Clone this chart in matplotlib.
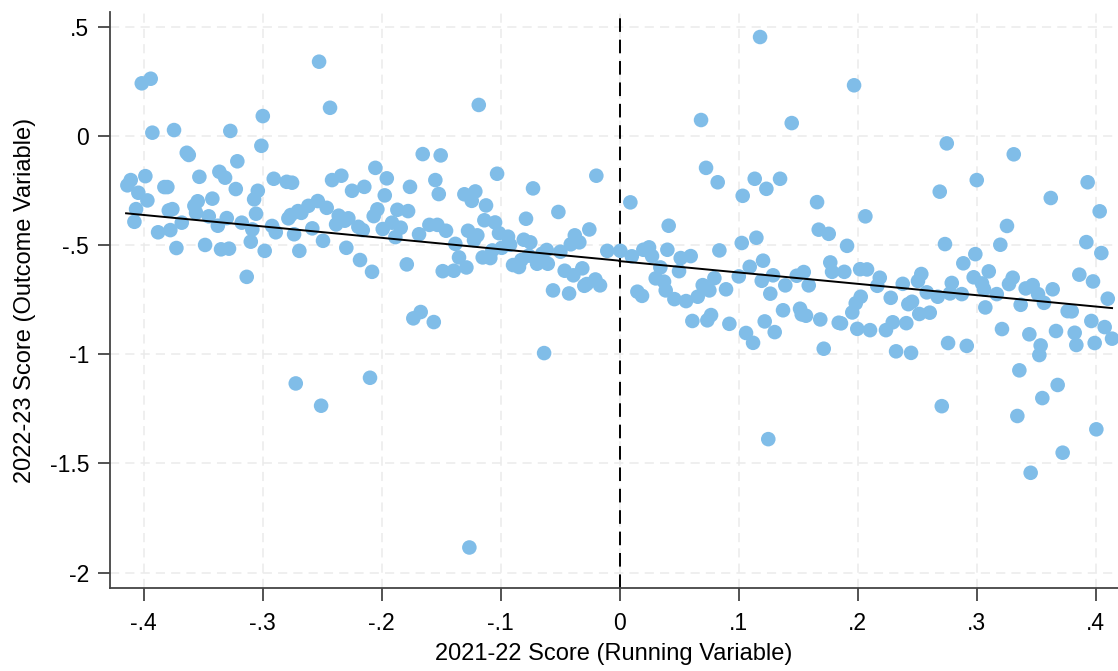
import numpy as np
import matplotlib
matplotlib.use("Agg")
import matplotlib.pyplot as plt

plt.rcParams['font.family'] = ['Liberation Sans', 'DejaVu Sans']

# binned scores left of the cutoff (running variable < 0)
left_x = [-0.4015, -0.394, -0.3926, -0.3744, -0.2525, -0.2433, -0.2998, -0.3010, -0.3271, -0.3637,
          -0.3620, -0.3212, -0.4136, -0.4108, -0.3985, -0.4044, -0.3968, -0.4063, -0.4077, -0.3878,
          -0.3825, -0.3800, -0.3788, -0.3758, -0.3775, -0.3724, -0.3679, -0.3531, -0.3573, -0.3545,
          -0.3559, -0.3452, -0.3422, -0.3483, -0.3376, -0.3363, -0.3315, -0.3225, -0.3301, -0.3349,
          -0.3282, -0.3175, -0.3133, -0.3099, -0.3086, -0.3055, -0.3071, -0.3040, -0.2982, -0.2920,
          -0.2889, -0.2906, -0.2797, -0.2752, -0.2783, -0.2763, -0.2702, -0.2674, -0.2735, -0.2691,
          -0.2615, -0.2582, -0.2536, -0.2492, -0.2461, -0.2416, -0.2338, -0.2360, -0.2382, -0.2309,
          -0.2279, -0.2296, -0.2248, -0.2195, -0.2181, -0.2721, -0.2508,
          -0.1183, -0.1654, -0.1503, -0.2052, -0.1956, -0.2145, -0.1973, -0.1761, -0.1548, -0.1519,
          -0.1029, -0.0727, -0.0195, -0.1304, -0.1242, -0.1212, -0.1122, -0.2035, -0.2066, -0.1867,
          -0.1777, -0.2158, -0.1990, -0.1912, -0.1839, -0.1884, -0.1685, -0.1598, -0.1531, -0.1458,
          -0.1380, -0.1273, -0.1223, -0.1195, -0.1136, -0.1046, -0.1013, -0.0937, -0.0920, -0.0990,
          -0.0786, -0.0805, -0.0750, -0.0514, -0.0376, -0.0338, -0.0410, -0.0254, -0.2080, -0.1788,
          -0.1486, -0.1393, -0.1349, -0.1287, -0.1150, -0.1086, -0.1069, -0.0895, -0.0845, -0.0825,
          -0.0763, -0.0693, -0.0603, -0.0649, -0.0612, -0.0497, -0.0461, -0.0388, -0.0313, -0.0559,
          -0.0424, -0.0296, -0.0276, -0.0203, -0.0164, -0.0103, -0.1733, -0.1671, -0.1561, -0.0634,
          -0.2097, -0.1262]
left_y = [0.240, 0.261, 0.014, 0.026, 0.339, 0.128, 0.090, -0.046, 0.022, -0.078,
          -0.088, -0.117, -0.227, -0.203, -0.185, -0.261, -0.296, -0.336, -0.394, -0.442,
          -0.235, -0.235, -0.342, -0.336, -0.432, -0.514, -0.398, -0.188, -0.321, -0.300,
          -0.353, -0.369, -0.288, -0.500, -0.412, -0.165, -0.192, -0.244, -0.377, -0.520,
          -0.517, -0.398, -0.646, -0.485, -0.429, -0.357, -0.291, -0.252, -0.527, -0.413,
          -0.442, -0.197, -0.211, -0.215, -0.378, -0.363, -0.345, -0.353, -0.451, -0.527,
          -0.321, -0.424, -0.299, -0.481, -0.330, -0.203, -0.183, -0.366, -0.406, -0.389,
          -0.378, -0.513, -0.252, -0.417, -0.569, -1.134, -1.236,
          0.141, -0.084, -0.090, -0.147, -0.195, -0.234, -0.273, -0.234, -0.203, -0.267,
          -0.174, -0.241, -0.183, -0.268, -0.298, -0.255, -0.319, -0.337, -0.368, -0.339,
          -0.345, -0.432, -0.427, -0.398, -0.421, -0.464, -0.451, -0.408, -0.408, -0.435,
          -0.495, -0.435, -0.478, -0.456, -0.387, -0.397, -0.446, -0.462, -0.499, -0.513,
          -0.380, -0.476, -0.488, -0.349, -0.456, -0.488, -0.497, -0.429, -0.623, -0.589,
          -0.620, -0.618, -0.557, -0.603, -0.557, -0.560, -0.525, -0.592, -0.601, -0.569,
          -0.549, -0.586, -0.586, -0.540, -0.523, -0.531, -0.618, -0.639, -0.607, -0.708,
          -0.722, -0.687, -0.679, -0.658, -0.685, -0.527, -0.836, -0.807, -0.853, -0.995,
          -1.108, -1.885]

# scores right of the cutoff (running variable >= 0)
right_x = [0.0007, 0.1181, 0.1971, 0.0685, 0.1447, 0.0727, 0.0825, 0.1035, 0.1136, 0.1234,
           0.1349, 0.0091, 0.0413, 0.1660, 0.1674, 0.1758, 0.2066, 0.0103, 0.0200, 0.0248,
           0.0273, 0.0402, 0.0514, 0.0598, 0.0839, 0.1027, 0.1150, 0.1206, 0.1094, 0.0343,
           0.0500, 0.0304, 0.0374, 0.0388, 0.0699, 0.0755, 0.0797, 0.0895, 0.1002, 0.1195,
           0.1290, 0.1267, 0.1393, 0.1489, 0.1548, 0.1590, 0.1771, 0.1786, 0.1889, 0.1912,
           0.2022, 0.0150, 0.0189, 0.0461, 0.0559, 0.0657, 0.2027, 0.0612, 0.0738, 0.0769,
           0.0923, 0.1063, 0.1122, 0.1220, 0.1304, 0.1374, 0.1517, 0.1531, 0.1567, 0.1687,
           0.1716, 0.1842, 0.1861, 0.1956, 0.1985, 0.1998, 0.2105, 0.1250,
           0.2750, 0.3313, 0.3002, 0.2691, 0.3934, 0.3624, 0.4035, 0.3256, 0.2735, 0.3200,
           0.3923, 0.4049, 0.2990, 0.2889, 0.3103, 0.2976, 0.3046, 0.3063, 0.2080, 0.2187,
           0.2166, 0.2380, 0.2536, 0.2508, 0.2582, 0.2792, 0.2777, 0.2876, 0.3273, 0.3304,
           0.3170, 0.3413, 0.3472, 0.3517, 0.3640, 0.3864, 0.3979, 0.2279, 0.2458, 0.2674,
           0.4103, 0.2427, 0.2519, 0.2607, 0.3074, 0.3371, 0.3567, 0.3766, 0.3800, 0.2239,
           0.2296, 0.2410, 0.2324, 0.2450, 0.2761, 0.2918, 0.3214, 0.3444, 0.3539, 0.3528,
           0.3668, 0.3825, 0.3839, 0.3965, 0.3993, 0.4077, 0.4139, 0.3360, 0.3682, 0.3553,
           0.2708, 0.3343, 0.4007, 0.3724, 0.3455]
right_y = [-0.527, 0.452, 0.231, 0.072, 0.058, -0.147, -0.213, -0.275, -0.197, -0.243,
           -0.197, -0.305, -0.412, -0.304, -0.430, -0.449, -0.369, -0.552, -0.522, -0.511,
           -0.551, -0.522, -0.560, -0.551, -0.525, -0.491, -0.467, -0.572, -0.600, -0.603,
           -0.620, -0.653, -0.668, -0.708, -0.684, -0.708, -0.652, -0.703, -0.644, -0.664,
           -0.639, -0.723, -0.685, -0.641, -0.624, -0.685, -0.580, -0.623, -0.623, -0.504,
           -0.611, -0.714, -0.733, -0.748, -0.757, -0.737, -0.737, -0.848, -0.845, -0.821,
           -0.861, -0.903, -0.948, -0.850, -0.899, -0.799, -0.792, -0.818, -0.824, -0.841,
           -0.975, -0.856, -0.859, -0.809, -0.767, -0.884, -0.890, -1.389,
           -0.035, -0.085, -0.203, -0.256, -0.213, -0.285, -0.346, -0.413, -0.496, -0.499,
           -0.487, -0.537, -0.542, -0.584, -0.621, -0.648, -0.676, -0.703, -0.612, -0.650,
           -0.687, -0.678, -0.633, -0.665, -0.717, -0.674, -0.722, -0.725, -0.679, -0.650,
           -0.725, -0.699, -0.684, -0.725, -0.703, -0.636, -0.667, -0.742, -0.760, -0.737,
           -0.746, -0.771, -0.816, -0.810, -0.786, -0.774, -0.765, -0.803, -0.804, -0.890,
           -0.854, -0.858, -0.987, -0.994, -0.949, -0.962, -0.885, -0.909, -0.960, -1.004,
           -0.894, -0.902, -0.958, -0.848, -0.949, -0.876, -0.929, -1.074, -1.141, -1.201,
           -1.238, -1.283, -1.344, -1.451, -1.543]

# fitted linear trend on each side of the cutoff
fit_left_x = [-0.4147, 0.0]
fit_left_y = [-0.355, -0.572]
fit_right_x = [0.0, 0.4139]
fit_right_y = [-0.574, -0.789]

xticks = [-0.4, -0.3, -0.2, -0.1, 0, 0.1, 0.2, 0.3, 0.4]
xtick_labels = ['-.4', '-.3', '-.2', '-.1', '0', '.1', '.2', '.3', '.4']
yticks = [0.5, 0, -0.5, -1, -1.5, -2]
ytick_labels = ['.5', '0', '-.5', '-1', '-1.5', '-2']

dot_color = '#80bde8'
spine_color = '#444444'

fig = plt.figure(figsize=(11.18, 6.71), dpi=100)
ax = fig.add_axes([0.0984, 0.1232, 0.9016, 0.8594])

ax.scatter(left_x, left_y, s=110, color=dot_color, edgecolors='none', zorder=3)
ax.scatter(right_x, right_y, s=110, color=dot_color, edgecolors='none', zorder=3)
ax.plot(fit_left_x, fit_left_y, color='black', linewidth=1.4, zorder=4)
ax.plot(fit_right_x, fit_right_y, color='black', linewidth=1.4, zorder=4)
ax.axvline(0, color='black', linewidth=1.4, linestyle=(0, (7, 4)), zorder=2)

ax.set_xlim(-0.4282, 0.4189)
ax.set_ylim(-2.072, 0.568)
ax.set_xticks(xticks)
ax.set_xticklabels(xtick_labels)
ax.set_yticks(yticks)
ax.set_yticklabels(ytick_labels)

ax.grid(True, color='#ebebeb', linestyle=(0, (6, 4)), linewidth=1.1, zorder=0)
ax.set_axisbelow(True)

for side in ['top', 'right']:
    ax.spines[side].set_visible(False)
for side in ['left', 'bottom']:
    ax.spines[side].set_color(spine_color)
    ax.spines[side].set_linewidth(1.3)

ax.tick_params(axis='both', direction='out', length=9, width=1.3, color=spine_color,
               labelsize=16.5, pad=6)
ax.tick_params(axis='x', pad=8)

ax.set_xlabel('2021-22 Score (Running Variable)', fontsize=17, labelpad=6)
ax.set_ylabel('2022-23 Score (Outcome Variable)', fontsize=17, labelpad=10)

fig.savefig('out.png', dpi=100)
